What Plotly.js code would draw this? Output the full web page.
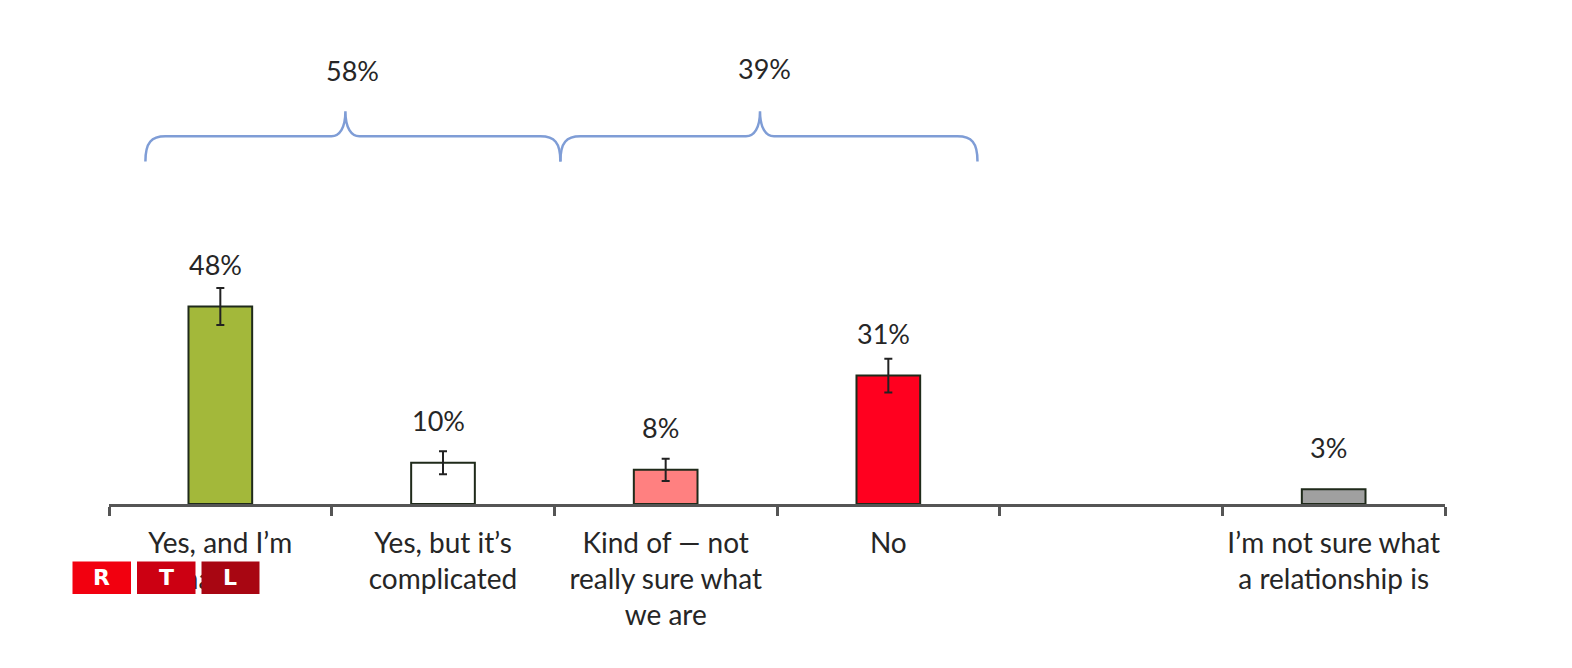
<!DOCTYPE html>
<html><head><meta charset="utf-8">
<script src="https://cdn.plot.ly/plotly-3.0.1.min.js"></script>
<style>html,body{margin:0;padding:0;background:#fff}</style>
</head><body><div id="chart" style="width:1572px;height:668px"></div>
<script>
const categories = ["Yes, and I’m<br>happy","Yes, but it’s<br>complicated","Kind of — not<br>really sure what<br>we are","No"," ","I’m not sure what<br>a relationship is"];
const values = [48,10,8.3,31.2,null,3.6];
const labels = ["48%","10%","8%","31%","","3%"];
const errors = [4.5,2.8,2.7,4.1,NaN,NaN];
const barColors = ["#a3b83a","#ffffff","#ff8080","#ff001f","#ffffff","#a0a0a0"];
const groupLabels = ["58%","39%"];

const W=1572,H=668,L=109,R=127,T=40,B=164;
const px=x=>((x-L)/(W-L-R)).toFixed(5), py=y=>((H-B-y)/(H-T-B)).toFixed(5);
const P=(x,y)=>px(x)+","+py(y);
const brace=(x0,xm,x1,yb,yh,yt)=>`M${P(x0,yb)} C${P(x0,yh+6)} ${P(x0+6,yh)} ${P(x0+20,yh)} L${P(xm-14,yh)} C${P(xm-6,yh)} ${P(xm,yh-8)} ${P(xm,yt)} C${P(xm,yh-8)} ${P(xm+6,yh)} ${P(xm+14,yh)} L${P(x1-20,yh)} C${P(x1-6,yh)} ${P(x1,yh+6)} ${P(x1,yb)}`;
const logo=[[72.5,131,"#f2000f","R"],[137,195.5,"#cc0012","T"],[201.5,259.5,"#a80612","L"]];

const shapes=[
 {type:"path",xref:"paper",yref:"paper",path:brace(145.4,345.4,560.4,161.4,136.3,111.3),line:{color:"#7f9dd6",width:2.5},layer:"above"},
 {type:"path",xref:"paper",yref:"paper",path:brace(560.4,760,977.5,161.4,136.3,111.3),line:{color:"#7f9dd6",width:2.5},layer:"above"}
].concat(logo.map(l=>({type:"rect",xref:"paper",yref:"paper",x0:+px(l[0]),x1:+px(l[1]),y0:+py(594),y1:+py(561.5),fillcolor:l[2],line:{width:0},layer:"above"})));

const font={family:"Lato, Liberation Sans, sans-serif",size:27,color:"#262626"};
const tickFont={family:"Lato, Liberation Sans, sans-serif",size:28,color:"#262626"};
const annotations=[];
categories.forEach((c,i)=>{ if(labels[i]) annotations.push({x:c,y:values[i],xref:"x",yref:"y",text:labels[i],showarrow:false,yshift:42,xshift:-5,font,xanchor:"center",yanchor:"middle"}); });
annotations.push({xref:"paper",yref:"paper",x:+px(353),y:+py(70.5),text:groupLabels[0],showarrow:false,font,xanchor:"center",yanchor:"middle"});
annotations.push({xref:"paper",yref:"paper",x:+px(764.4),y:+py(68.5),text:groupLabels[1],showarrow:false,font,xanchor:"center",yanchor:"middle"});
logo.forEach(l=>annotations.push({xref:"paper",yref:"paper",x:+px((l[0]+l[1])/2),y:+py(577.5),text:"<b>"+l[3]+"</b>",showarrow:false,xanchor:"center",yanchor:"middle",font:{family:"DejaVu Sans",size:22,color:"#fff"}}));

Plotly.newPlot("chart",[{
 type:"bar",x:categories,y:values,
 marker:{color:barColors,line:{color:"#1f2a1a",width:2}},
 error_y:{type:"data",array:errors,visible:true,color:"#222",thickness:2,width:4},
 hoverinfo:"skip"
}],{
 width:W,height:H,margin:{l:L,r:R,t:T,b:B,pad:0},
 paper_bgcolor:"#fff",plot_bgcolor:"#fff",showlegend:false,bargap:0.714,
 font,
 xaxis:{type:"category",categoryorder:"array",categoryarray:categories,range:[-0.5,5.5],tickson:"boundaries",ticks:"outside",ticklen:9,tickwidth:3,tickcolor:"#555",showline:true,linecolor:"#555",linewidth:3,showgrid:false,zeroline:false,tickangle:0,tickfont:tickFont,ticklabelstandoff:12},
 yaxis:{range:[0,112.76],visible:false,fixedrange:true},
 shapes,annotations
},{displayModeBar:false,staticPlot:true});
</script></body></html>
